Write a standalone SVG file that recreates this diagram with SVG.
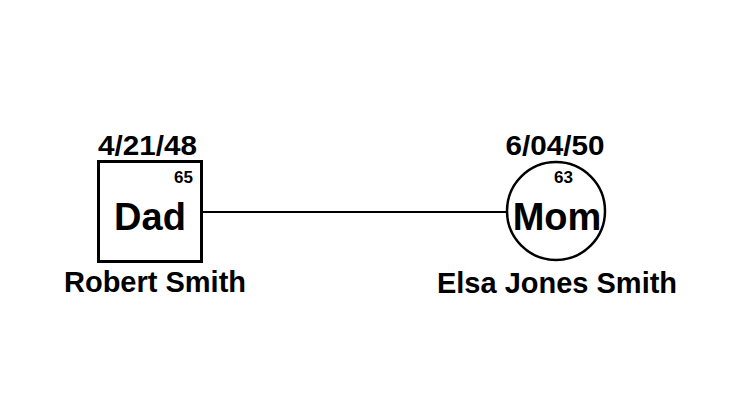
<svg xmlns="http://www.w3.org/2000/svg" width="750" height="400" viewBox="0 0 750 400">
<style>
text{font-family:"Liberation Sans",Arial,sans-serif;font-weight:bold;fill:#000;text-anchor:middle}
.date{font-size:27px}
.age{font-size:17px}
.main{font-size:38px}
.name{font-size:29px}
.shape{fill:#fff;stroke:#000}
</style>
<rect width="750" height="400" fill="#fff"/>
<g id="connectors">
<line x1="202" y1="212" x2="506" y2="212" stroke="#000" stroke-width="2"/>
</g>
<g id="dad">
<rect class="shape" x="98.5" y="161.5" width="103" height="100" stroke-width="3"/>
<text class="date" x="147.5" y="155" textLength="99" lengthAdjust="spacingAndGlyphs">4/21/48</text>
<text class="age" x="183.5" y="183">65</text>
<text class="main" x="150" y="230">Dad</text>
<text class="name" x="155" y="292">Robert Smith</text>
</g>
<g id="mom">
<circle class="shape" cx="556" cy="211" r="49" stroke-width="2.5"/>
<text class="date" x="555" y="155" textLength="99" lengthAdjust="spacingAndGlyphs">6/04/50</text>
<text class="age" x="563.5" y="183">63</text>
<text class="main" x="557" y="230">Mom</text>
<text class="name" x="557" y="293">Elsa Jones Smith</text>
</g>
</svg>
